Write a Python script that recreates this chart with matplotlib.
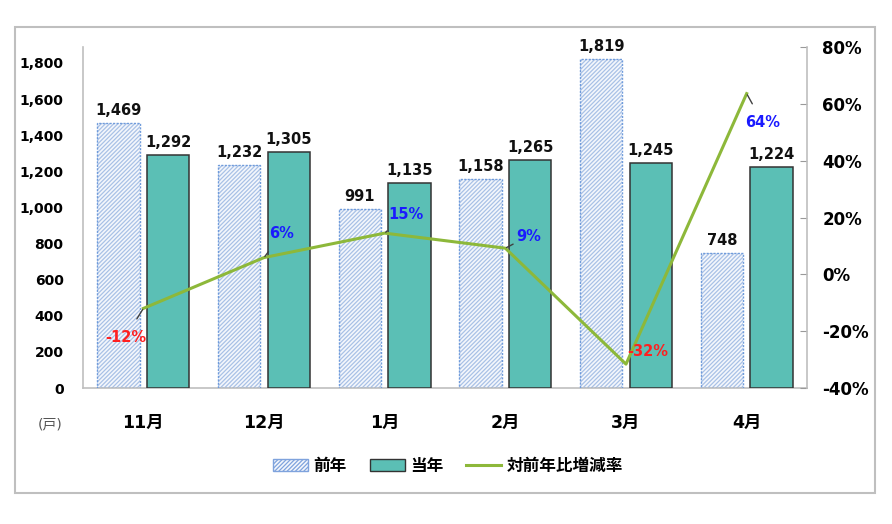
import matplotlib
matplotlib.use("Agg")
import matplotlib.pyplot as plt
import numpy as np
from matplotlib.patches import Rectangle, Patch
from matplotlib.lines import Line2D

categories = ["11月", "12月", "1月", "2月", "3月", "4月"]
prev_year = [1469, 1232, 991, 1158, 1819, 748]
curr_year = [1292, 1305, 1135, 1265, 1245, 1224]
yoy_rate = [-12.0, 5.9, 14.5, 9.2, -31.6, 63.6]
rate_labels = ["-12%", "6%", "15%", "9%", "-32%", "64%"]
left_ticks = [0, 200, 400, 600, 800, 1000, 1200, 1400, 1600, 1800]
right_ticks = [-40, -20, 0, 20, 40, 60, 80]

FAM = ["DejaVu Sans", "Noto Sans CJK JP"]
plt.rcParams["font.family"] = FAM
plt.rcParams["hatch.linewidth"] = 0.9

W, H = 892, 524
fig = plt.figure(figsize=(W / 100, H / 100), dpi=100)
fig.patch.set_facecolor("white")
# outer border
fig.add_artist(Rectangle((15 / W, 1 - 493 / H), 860 / W, 466 / H, transform=fig.transFigure,
                         fill=False, edgecolor="#BFBFBF", linewidth=1.5))

ax = fig.add_axes([83 / W, 1 - 388 / H, (807 - 83) / W, (388 - 47) / H])
x = np.arange(len(categories))
bw = 0.35
off = 0.205

# previous year (hatched)
ax.bar(x - off, prev_year, bw, color="#F4F7FC", edgecolor="#A9C1E6", hatch="////////", linewidth=0, zorder=2)
ax.bar(x - off, prev_year, bw, color="none", edgecolor="#6F9BDB", linestyle=(0, (1.5, 1)), linewidth=1.0, zorder=3)
# current year
ax.bar(x + off, curr_year, bw, color="#5BBFB5", edgecolor="#333333", linewidth=1.1, zorder=3)

for xi, v in zip(x - off, prev_year):
    ax.annotate(f"{v:,}", (xi, v), xytext=(0, 5), textcoords="offset pixels", ha="center", va="bottom",
                fontsize=10.5, fontweight="bold", color="#111111")
for xi, v in zip(x + off, curr_year):
    ax.annotate(f"{v:,}", (xi, v), xytext=(0, 5), textcoords="offset pixels", ha="center", va="bottom",
                fontsize=10.5, fontweight="bold", color="#111111")

ax.set_xlim(-0.5, len(categories) - 0.5)
ax.set_ylim(0, 1888)
ax.set_yticks(left_ticks)
ax.set_yticklabels([f"{t:,}" for t in left_ticks], fontsize=10, fontweight="bold")
ax.tick_params(axis="y", length=0, pad=14)
ax.set_xticks(x)
ax.set_xticklabels(categories, fontsize=12.5, fontweight="bold")
ax.tick_params(axis="x", length=0, pad=19)
for s in ["top", "right"]:
    ax.spines[s].set_visible(False)
ax.spines["left"].set_color("#BFBFBF")
ax.spines["bottom"].set_color("#BFBFBF")
ax.spines["left"].set_linewidth(1.2)
ax.spines["bottom"].set_linewidth(1.2)

ax2 = ax.twinx()
ax2.plot(x, yoy_rate, color="#8DB83A", linewidth=2.2, zorder=5)
ax2.set_ylim(-40, 80)
ax2.set_yticks(right_ticks)
ax2.set_yticklabels([f"{t}%" for t in right_ticks], fontsize=12, fontweight="bold")
ax2.tick_params(axis="y", direction="in", length=5, color="#999999", pad=11)
for s in ["top", "left", "bottom"]:
    ax2.spines[s].set_visible(False)
ax2.spines["right"].set_color("#BFBFBF")
ax2.spines["right"].set_linewidth(1.2)

offsets = [(-18, -29), (18, 24), (21, 19), (23, 12), (22, 13), (16, -29)]
leaders = [True, True, True, True, False, True]
for xi, v, lab, (dx, dy), ld in zip(x, yoy_rate, rate_labels, offsets, leaders):
    col = "#FF2020" if v < 0 else "#1A1AFF"
    ap = dict(arrowstyle="-", color="#404040", lw=1.0, shrinkA=7, shrinkB=1) if ld else None
    ax2.annotate(lab, (xi, v), xytext=(dx, dy), textcoords="offset pixels", ha="center", va="center",
                 fontsize=10.5, fontweight="bold", color=col, arrowprops=ap, zorder=6)

fig.text(50 / W, 1 - 425 / H, "(戸)", fontsize=10, color="#555555", ha="center", va="center")

handles = [
    Patch(facecolor="#F4F7FC", edgecolor="#7FA3DD", hatch="////////", label="前年"),
    Patch(facecolor="#5BBFB5", edgecolor="#333333", label="当年"),
    Line2D([0], [0], color="#8DB83A", lw=2.2, label="対前年比増減率"),
]
fig.legend(handles=handles, loc="center", bbox_to_anchor=(448 / W, 1 - 466 / H), ncol=3, frameon=False,
           prop={"family": FAM, "weight": "bold", "size": 12}, handlelength=2.1, handleheight=0.7,
           columnspacing=1.4, handletextpad=0.3)

fig.savefig("out.png", dpi=100, facecolor="white")
